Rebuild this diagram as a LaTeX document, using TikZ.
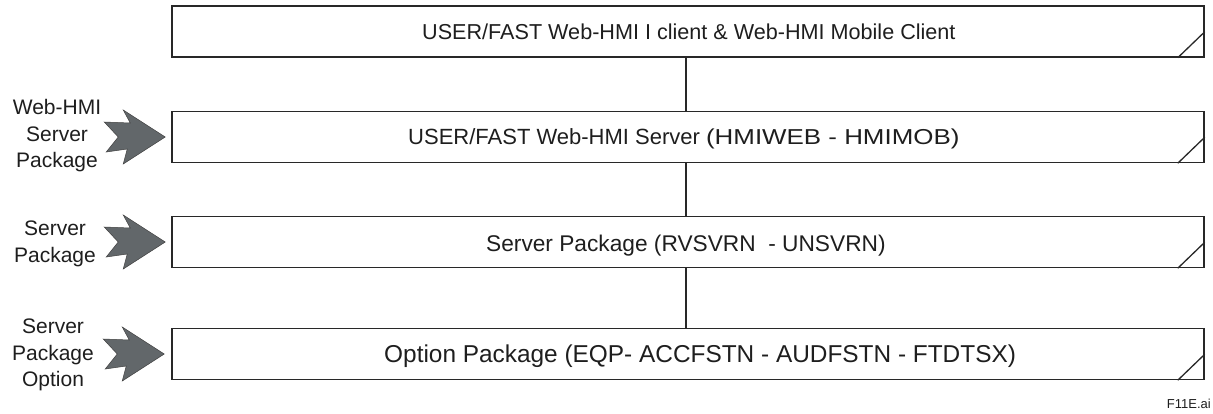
\documentclass[tikz,border=0pt]{standalone}
\usepackage{fontspec}
\setmainfont{Liberation Sans}
\usepackage{graphicx}
\definecolor{boxline}{RGB}{40,40,40}
\definecolor{txt}{RGB}{30,30,30}
\definecolor{arrowgray}{RGB}{98,103,106}
\begin{document}
\begin{tikzpicture}[x=1pt,y=-1pt,
  layerbox/.style={draw=boxline, line width=1.5pt, minimum width=1032pt, minimum height=51pt, inner sep=0pt},
  conn/.style={draw=boxline, line width=1.5pt},
  corner/.style={draw=boxline, line width=1.3pt},
  boxtext/.style={text=txt, inner sep=0pt, anchor=base west},
  sidelabel/.style={text=txt, inner sep=0pt, align=center, font=\fontsize{21}{26.5}\selectfont},
  hmiarrow/.pic={\filldraw[fill=arrowgray, draw=black!75, line width=0.5pt]
     (0,0) -- (-42,-27) -- (-35,-14) -- (-61,-15) -- (-47,0) -- (-59,15) -- (-38,12) -- (-42,27) -- cycle;}
]
\path[use as bounding box] (0,0) rectangle (1213,413);

% layer boxes
\node[layerbox] (b1) at (688,31.5) {};
\node[layerbox] (b2) at (688,137) {};
\node[layerbox] (b3) at (688,242) {};
\node[layerbox] (b4) at (688,354) {};

% corner marks
\foreach \b in {b1,b2,b3,b4}{
  \draw[corner] ([xshift=-27pt]\b.south east) -- ([yshift=26pt]\b.south east);
}

% connectors
\coordinate (lx) at (686,0);
\draw[conn] (b1.south -| lx) -- (b2.north -| lx);
\draw[conn] (b2.south -| lx) -- (b3.north -| lx);
\draw[conn] (b3.south -| lx) -- (b4.north -| lx);

% box texts
\node[boxtext, font=\fontsize{21.6}{25}\selectfont] (t1) at (422,39)
  {USER/FAST Web-HMI I client \& Web-HMI Mobile Client};
\node[boxtext, font=\fontsize{22}{25}\selectfont] (t2) at (408,144)
  {USER/FAST Web-HMI Server\ \scalebox{1.2}[1]{\fontsize{21.6}{25}\selectfont(HMIWEB - HMIMOB)}};
\node[boxtext, font=\fontsize{22.7}{26}\selectfont] (t3) at (486,251)
  {Server Package (RVSVRN\ \ - UNSVRN)};
\node[boxtext, font=\fontsize{24.4}{28}\selectfont] (t4) at (384,362)
  {Option Package (EQP- ACCFSTN - AUDFSTN - FTDTSX)};

% arrows
\pic at ([xshift=-6pt]b2.west) {hmiarrow};
\pic at ([xshift=-6pt]b3.west) {hmiarrow};
\pic at ([xshift=-7pt]b4.west) {hmiarrow};

% side labels
\node[sidelabel] (s1) at (57,136) {Web-HMI\\Server\\Package};
\node[sidelabel] (s2) at (55,244) {Server\\Package};
\node[sidelabel] (s3) at (53,355) {Server\\Package\\Option};

% file tag
\node[text=txt, inner sep=0pt, anchor=base east, font=\fontsize{13}{15}\selectfont] (tag) at (1211,408) {F11E.ai};
\end{tikzpicture}
\end{document}
